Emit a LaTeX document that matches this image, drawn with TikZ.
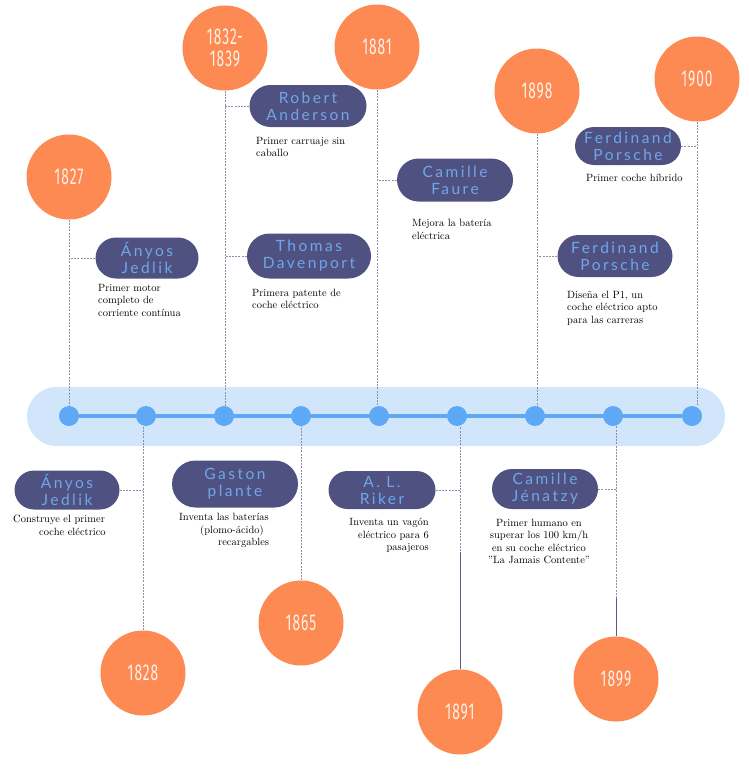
\documentclass[tikz,border=0pt]{standalone}
\usepackage{fontspec}
\usetikzlibrary{shapes.misc}
\newfontfamily\pillfont[LetterSpace=16]{Lato}
\newfontfamily\yearfont[FakeStretch=0.6,LetterSpace=4]{Fira Sans}
\definecolor{orng}{HTML}{FD8953}
\definecolor{yeartxt}{HTML}{FFF1E6}
\definecolor{pillc}{HTML}{4F5280}
\definecolor{pilltxt}{HTML}{6FA6EC}
\definecolor{bandc}{HTML}{D2E6FB}
\definecolor{linec}{HTML}{5DA9F5}
\definecolor{connc}{HTML}{8C8FA8}
\definecolor{darkc}{HTML}{5A5D80}
\tikzset{
  year/.style={circle, fill=orng, minimum size=85pt, inner sep=0pt, text=yeartxt,
    font=\yearfont\fontsize{23}{22}\selectfont, align=center},
  pill/.style={rounded rectangle, fill=pillc, text=pilltxt, inner xsep=0pt, inner ysep=0pt,
    font=\pillfont\fontsize{15.5}{17}\selectfont, align=center},
  dot/.style={circle, fill=linec, minimum size=20pt, inner sep=0pt},
  desc/.style={font=\fontsize{10.5}{12.5}\selectfont, inner sep=0pt, text=black},
  conn/.style={draw=connc, dash pattern=on 2pt off 1.2pt, line width=0.9pt},
  darkline/.style={draw=darkc, line width=1pt},
  band/.style={rounded rectangle, fill=bandc, inner sep=0pt},
}
\begin{document}
\begin{tikzpicture}[x=1pt, y=-1pt]
\useasboundingbox (0,0) rectangle (749,771);
% band and main line
\node[band, minimum width=698pt, minimum height=59pt] (band) at (376,416.5) {};
\node[dot] (d1) at (69,416) {};
\node[dot] (d2) at (146,416) {};
\node[dot] (d3) at (224,416) {};
\node[dot] (d4) at (301,416) {};
\node[dot] (d5) at (379,416) {};
\node[dot] (d6) at (457,416) {};
\node[dot] (d7) at (535,416) {};
\node[dot] (d8) at (613,416) {};
\node[dot] (d9) at (692,416) {};
\draw[linec, line width=4pt] (d1) -- (d9);
% year circles
\node[year] (y1827) at (69,177) {1827};
\node[year] (y1832) at (225,48) {1832-\\1839};
\node[year] (y1881) at (377,47) {1881};
\node[year] (y1898) at (537,91) {1898};
\node[year] (y1900) at (697,79) {1900};
\node[year] (y1828) at (143,673) {1828};
\node[year] (y1865) at (301,623) {1865};
\node[year] (y1891) at (460,712) {1891};
\node[year] (y1899) at (616,679) {1899};
% pills
\node[pill, minimum width=103pt, minimum height=41pt] (pJ1) at (147,258) {Ányos\\Jedlik};
\node[pill, minimum width=117pt, minimum height=42pt] (pRA) at (308,106) {Robert\\Anderson};
\node[pill, minimum width=124pt, minimum height=45pt] (pTD) at (309,256) {Thomas\\Davenport};
\node[pill, minimum width=116pt, minimum height=43pt] (pCF) at (455,180) {Camille\\Faure};
\node[pill, minimum width=115pt, minimum height=42pt] (pFP1) at (615,256) {Ferdinand\\Porsche};
\node[pill, minimum width=106pt, minimum height=38pt] (pFP2) at (628,146) {Ferdinand\\Porsche};
\node[pill, minimum width=105pt, minimum height=39pt] (pJ2) at (67,490) {Ányos\\Jedlik};
\node[pill, minimum width=126pt, minimum height=47pt] (pGP) at (235,484) {Gaston\\plante};
\node[pill, minimum width=107pt, minimum height=38pt] (pAL) at (382,490) {A. L.\\Riker};
\node[pill, minimum width=106pt, minimum height=40pt] (pCJ) at (545,489) {Camille\\Jénatzy};
% vertical connectors (top)
\draw[conn] (y1827.south) -- (y1827.south |- d1.north);
\draw[conn] (y1832.south) -- (y1832.south |- d3.north);
\draw[conn] (y1881.south) -- (y1881.south |- d5.north);
\draw[conn] (y1898.south) -- (y1898.south |- d7.north);
\draw[conn] (y1900.south) -- (y1900.south |- d9.north);
% vertical connectors (bottom)
\draw[conn] (y1828.north) -- (y1828.north |- d2.south);
\draw[conn] (y1865.north) -- (y1865.north |- d4.south);
\draw[conn] (y1891.north) -- (y1891.north |- d6.south);
\draw[conn] (y1899.north) -- (y1899.north |- d8.south);
\coordinate (s1891) at (460,552);
\coordinate (s1899) at (616,598);
\draw[darkline] (s1891) -- (y1891.north);
\draw[darkline] (s1899) -- (y1899.north);
% branches
\draw[conn] (pJ1.west) -- (pJ1.west -| y1827.south);
\draw[conn] (pRA.west) -- (pRA.west -| y1832.south);
\draw[conn] (pTD.west) -- (pTD.west -| y1832.south);
\draw[conn] (pCF.west) -- (pCF.west -| y1881.south);
\draw[conn] (pFP1.west) -- (pFP1.west -| y1898.south);
\draw[conn] (pFP2.east) -- (pFP2.east -| y1900.south);
\draw[conn] (pJ2.east) -- (pJ2.east -| y1828.north);
\draw[conn] (pAL.east) -- (pAL.east -| y1891.north);
\draw[conn] (pCJ.east) -- (pCJ.east -| y1899.north);
% descriptions
\node[desc, anchor=north west, align=left] (tJ1) at (98,284) {Primer motor\\completo de\\corriente contínua};
\node[desc, anchor=north west, align=left] (tRA) at (256,137) {Primer carruaje sin\\caballo};
\node[desc, anchor=north west, align=left] (tTD) at (252,289) {Primera patente de\\coche eléctrico};
\node[desc, anchor=north west, align=left] (tCF) at (412,219) {Mejora la batería\\eléctrica};
\node[desc, anchor=north west, align=left] (tFP2) at (586,174) {Primer coche híbrido};
\node[desc, anchor=north west, align=left] (tFP1) at (567,291) {Diseña el P1, un\\coche eléctrico apto\\para las carreras};
\node[desc, anchor=north west, align=left] (tJ2) at (13,515) {Construye el primer\\\hspace*{26pt}coche eléctrico};
\node[desc, anchor=north west, align=left] (tGP) at (179,513) {Inventa las baterías\\\hspace*{21pt}(plomo-ácido)\\\hspace*{39pt}recargables};
\node[desc, anchor=north east, align=right] (tAL) at (429,518) {Inventa un vagón\\eléctrico para 6\\pasajeros};
\node[desc, anchor=north, align=center] (tCJ) at (539,519) {Primer humano en\\superar los 100 km/h\\en su coche eléctrico\\"La Jamais Contente"};
\end{tikzpicture}
\end{document}
